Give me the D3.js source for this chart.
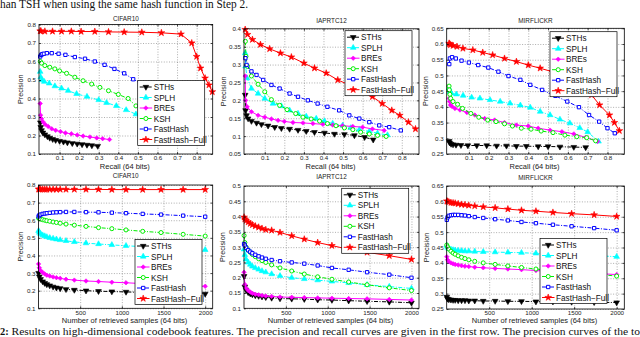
<!DOCTYPE html>
<html><head><meta charset="utf-8">
<script src="https://cdn.jsdelivr.net/npm/d3@7"></script>
<style>body{margin:0;background:#fff;} svg{display:block;}</style>
</head><body>
<svg id="c" width="640" height="337"></svg>
<script>
// ---------------- DATA ----------------
const methods = ["STHs", "SPLH", "BREs", "KSH", "FastHash", "FastHash\u2212Full"];
const datasets = ["CIFAR10", "IAPRTC12", "MIRFLICKR"];
const recallTicks = [0.1, 0.2, 0.3, 0.4, 0.5, 0.6, 0.7, 0.8];
const sampleTicks = [500, 1000, 1500, 2000];
const precTicksCifar = [0.1, 0.2, 0.3, 0.4, 0.5, 0.6, 0.7, 0.8];
const precTicksIaprTop = [0.05, 0.1, 0.15, 0.2, 0.25, 0.3, 0.35, 0.4];
const precTicksIaprBottom = [0.1, 0.15, 0.2, 0.25, 0.3, 0.35, 0.4, 0.45, 0.5];
const precTicksMir = [0.25, 0.3, 0.35, 0.4, 0.45, 0.5, 0.55, 0.6, 0.65];

// Precision-recall curves: [recall, precision]
const cifarPR_STHs = [[0.002,0.27],[0.004,0.245],[0.008,0.228],[0.015,0.215],[0.025,0.205],[0.038,0.195],[0.05,0.187],[0.065,0.18],[0.08,0.175],[0.1,0.17],[0.12,0.166],[0.14,0.162],[0.165,0.158],[0.19,0.155],[0.215,0.152],[0.24,0.149],[0.265,0.146],[0.295,0.143]];
const cifarPR_SPLH = [[0.001,0.545],[0.004,0.515],[0.01,0.5],[0.022,0.491],[0.047,0.482],[0.076,0.467],[0.11,0.455],[0.144,0.442],[0.187,0.425],[0.24,0.41],[0.30,0.392],[0.34,0.377],[0.39,0.36],[0.44,0.338],[0.49,0.315],[0.55,0.28]];
const cifarPR_BREs = [[0.001,0.373],[0.003,0.31],[0.008,0.29],[0.016,0.273],[0.027,0.26],[0.042,0.249],[0.06,0.236],[0.08,0.228],[0.105,0.221],[0.13,0.214],[0.16,0.209],[0.19,0.203],[0.22,0.197],[0.255,0.192],[0.29,0.187],[0.32,0.183],[0.355,0.178]];
const cifarPR_KSH = [[0.002,0.60],[0.008,0.591],[0.025,0.578],[0.05,0.569],[0.076,0.56],[0.10,0.549],[0.136,0.536],[0.178,0.515],[0.22,0.496],[0.264,0.478],[0.306,0.46],[0.35,0.442],[0.40,0.422],[0.45,0.40],[0.49,0.36],[0.55,0.33]];
const cifarPR_FastHash = [[0.001,0.627],[0.006,0.636],[0.012,0.64],[0.02,0.642],[0.035,0.645],[0.06,0.645],[0.095,0.642],[0.13,0.636],[0.178,0.624],[0.23,0.615],[0.28,0.60],[0.33,0.582],[0.38,0.56],[0.43,0.536],[0.476,0.504],[0.55,0.46]];
const cifarPR_FastHashFull = [[0.001,0.765],[0.005,0.764],[0.025,0.763],[0.064,0.763],[0.11,0.763],[0.16,0.763],[0.21,0.762],[0.28,0.762],[0.35,0.760],[0.43,0.759],[0.52,0.758],[0.62,0.755],[0.72,0.748],[0.775,0.70],[0.80,0.627],[0.82,0.564],[0.843,0.51],[0.863,0.473],[0.88,0.436]];

const iaprPR_STHs = [[0.0,0.215],[0.002,0.172],[0.007,0.158],[0.015,0.149],[0.032,0.142],[0.058,0.137],[0.083,0.133],[0.117,0.129],[0.151,0.125],[0.185,0.122],[0.227,0.12],[0.27,0.117],[0.312,0.114],[0.354,0.111],[0.405,0.109],[0.456,0.106],[0.507,0.105],[0.558,0.102],[0.61,0.097],[0.654,0.09]];
const iaprPR_SPLH = [[0.0,0.332],[0.002,0.295],[0.01,0.262],[0.032,0.233],[0.066,0.219],[0.1,0.205],[0.142,0.191],[0.185,0.184],[0.227,0.172],[0.27,0.163],[0.312,0.155],[0.363,0.149],[0.405,0.142],[0.447,0.135],[0.498,0.13],[0.54,0.123],[0.583,0.118],[0.634,0.113],[0.676,0.108],[0.727,0.103]];
const iaprPR_BREs = [[0.0,0.268],[0.002,0.2],[0.01,0.182],[0.032,0.168],[0.066,0.158],[0.1,0.153],[0.134,0.148],[0.168,0.144],[0.2,0.141],[0.244,0.138],[0.295,0.137],[0.346,0.135],[0.397,0.133],[0.447,0.131],[0.498,0.129],[0.55,0.127],[0.6,0.125],[0.65,0.12],[0.71,0.116]];
const iaprPR_KSH = [[0.001,0.365],[0.004,0.323],[0.012,0.295],[0.032,0.268],[0.066,0.245],[0.1,0.224],[0.134,0.202],[0.176,0.186],[0.214,0.174],[0.258,0.163],[0.295,0.153],[0.337,0.148],[0.38,0.142],[0.42,0.135],[0.464,0.129],[0.507,0.123],[0.55,0.118],[0.59,0.111],[0.634,0.106],[0.676,0.102],[0.72,0.099]];
const iaprPR_FastHash = [[0.001,0.318],[0.007,0.299],[0.032,0.281],[0.058,0.271],[0.092,0.257],[0.134,0.243],[0.176,0.233],[0.227,0.219],[0.27,0.21],[0.32,0.20],[0.37,0.191],[0.42,0.182],[0.48,0.172],[0.532,0.158],[0.583,0.149],[0.634,0.139],[0.685,0.13],[0.736,0.125],[0.795,0.116]];
const iaprPR_FastHashFull = [[0.0,0.398],[0.012,0.384],[0.037,0.37],[0.078,0.356],[0.125,0.344],[0.18,0.332],[0.236,0.321],[0.30,0.304],[0.354,0.29],[0.414,0.276],[0.473,0.257],[0.532,0.243],[0.59,0.224],[0.65,0.21],[0.70,0.191],[0.749,0.172],[0.79,0.158],[0.834,0.139],[0.87,0.12]];

const mirPR_STHs = [[0.0,0.291],[0.003,0.286],[0.01,0.282],[0.02,0.28],[0.035,0.279],[0.06,0.278],[0.095,0.277],[0.14,0.277],[0.19,0.277],[0.24,0.276],[0.29,0.276],[0.34,0.275],[0.39,0.275],[0.45,0.274],[0.5,0.274],[0.56,0.273],[0.63,0.272],[0.69,0.271]];
const mirPR_SPLH = [[0.0,0.459],[0.004,0.448],[0.012,0.443],[0.037,0.44],[0.071,0.436],[0.114,0.43],[0.156,0.427],[0.207,0.422],[0.258,0.417],[0.308,0.411],[0.36,0.405],[0.41,0.398],[0.46,0.385],[0.51,0.374],[0.56,0.36],[0.61,0.348],[0.66,0.333],[0.70,0.32],[0.755,0.29]];
const mirPR_BREs = [[0.0,0.427],[0.002,0.417],[0.007,0.406],[0.015,0.401],[0.03,0.395],[0.055,0.39],[0.09,0.382],[0.13,0.374],[0.18,0.363],[0.23,0.358],[0.28,0.35],[0.34,0.342],[0.4,0.339],[0.45,0.332],[0.51,0.326],[0.57,0.321],[0.63,0.314],[0.69,0.303],[0.75,0.29]];
const mirPR_KSH = [[0.0,0.466],[0.001,0.454],[0.004,0.44],[0.008,0.427],[0.02,0.417],[0.043,0.408],[0.068,0.395],[0.11,0.379],[0.15,0.367],[0.195,0.358],[0.237,0.353],[0.28,0.346],[0.32,0.339],[0.365,0.332],[0.414,0.329],[0.465,0.323],[0.525,0.318],[0.585,0.31],[0.645,0.305],[0.695,0.302],[0.74,0.292]];
const mirPR_FastHash = [[0.001,0.536],[0.004,0.554],[0.015,0.558],[0.034,0.554],[0.063,0.547],[0.1,0.541],[0.147,0.533],[0.198,0.525],[0.249,0.512],[0.3,0.498],[0.36,0.486],[0.41,0.47],[0.47,0.454],[0.537,0.435],[0.597,0.417],[0.656,0.399],[0.707,0.374],[0.758,0.353],[0.8,0.332],[0.837,0.316]];
const mirPR_FastHashFull = [[0.0,0.602],[0.003,0.6],[0.007,0.597],[0.02,0.595],[0.04,0.592],[0.07,0.586],[0.12,0.581],[0.17,0.573],[0.22,0.565],[0.28,0.554],[0.34,0.544],[0.4,0.533],[0.46,0.523],[0.52,0.512],[0.6,0.49],[0.66,0.47],[0.72,0.438],[0.76,0.406],[0.81,0.374],[0.835,0.35],[0.86,0.324]];

// Precision vs number of retrieved samples
const samplesK = [1, 10, 25, 50, 75, 100, 135, 175, 215, 260, 330, 430, 570, 720, 880, 1050, 1250, 1470, 1735, 2000];
const cifarPK_STHs = [0.3,0.28,0.265,0.252,0.243,0.236,0.229,0.222,0.217,0.213,0.208,0.204,0.2,0.197,0.195,0.193,0.19,0.188,0.185,0.182];
const cifarPK_SPLH = [0.54,0.53,0.522,0.515,0.51,0.505,0.5,0.496,0.492,0.488,0.483,0.477,0.47,0.465,0.46,0.455,0.45,0.445,0.44,0.432];
const cifarPK_BREs = [0.352,0.33,0.315,0.303,0.295,0.288,0.283,0.278,0.274,0.27,0.265,0.26,0.255,0.252,0.248,0.245,0.24,0.235,0.23,0.225];
const cifarPK_KSH = [0.612,0.61,0.607,0.603,0.6,0.597,0.594,0.59,0.587,0.583,0.578,0.572,0.565,0.558,0.552,0.545,0.537,0.53,0.52,0.51];
const cifarPK_FastHash = [0.622,0.628,0.632,0.636,0.638,0.64,0.642,0.644,0.645,0.646,0.647,0.647,0.646,0.645,0.643,0.64,0.636,0.632,0.626,0.62];
const cifarPK_FastHashFull = [0.776,0.776,0.776,0.776,0.775,0.775,0.775,0.775,0.775,0.775,0.775,0.775,0.775,0.775,0.774,0.774,0.774,0.774,0.774,0.774];

const iaprPK_STHs = [0.205,0.17,0.16,0.152,0.148,0.145,0.142,0.14,0.138,0.136,0.134,0.132,0.131,0.13,0.128,0.127,0.125,0.123,0.121,0.118];
const iaprPK_SPLH = [0.293,0.275,0.26,0.25,0.243,0.237,0.232,0.227,0.222,0.218,0.212,0.206,0.2,0.196,0.192,0.188,0.183,0.177,0.171,0.165];
const iaprPK_BREs = [0.218,0.178,0.166,0.158,0.153,0.149,0.146,0.144,0.142,0.14,0.139,0.137,0.136,0.135,0.134,0.133,0.132,0.131,0.129,0.127];
const iaprPK_KSH = [0.338,0.315,0.3,0.29,0.283,0.276,0.269,0.262,0.256,0.25,0.242,0.232,0.222,0.212,0.203,0.195,0.186,0.177,0.167,0.158];
const iaprPK_FastHash = [0.31,0.305,0.298,0.29,0.285,0.28,0.275,0.27,0.266,0.262,0.258,0.254,0.25,0.246,0.24,0.232,0.226,0.218,0.21,0.2];
const iaprPK_FastHashFull = [0.398,0.392,0.387,0.382,0.377,0.373,0.369,0.365,0.361,0.357,0.355,0.348,0.337,0.326,0.315,0.305,0.293,0.283,0.272,0.26];

const mirPK_STHs = [0.289,0.283,0.281,0.28,0.279,0.279,0.278,0.278,0.278,0.277,0.277,0.276,0.276,0.275,0.275,0.274,0.274,0.273,0.272,0.271];
const mirPK_SPLH = [0.456,0.45,0.446,0.444,0.442,0.441,0.44,0.439,0.438,0.438,0.437,0.436,0.435,0.434,0.433,0.431,0.429,0.427,0.424,0.42];
const mirPK_BREs = [0.42,0.41,0.404,0.4,0.397,0.395,0.393,0.391,0.389,0.388,0.386,0.384,0.382,0.38,0.378,0.375,0.372,0.369,0.366,0.362];
const mirPK_KSH = [0.458,0.452,0.445,0.438,0.432,0.428,0.423,0.418,0.414,0.41,0.405,0.4,0.395,0.39,0.385,0.38,0.375,0.37,0.364,0.357];
const mirPK_FastHash = [0.54,0.548,0.553,0.555,0.556,0.556,0.556,0.555,0.554,0.552,0.549,0.546,0.542,0.538,0.533,0.529,0.524,0.519,0.513,0.506];
const mirPK_FastHashFull = [0.601,0.6,0.598,0.596,0.595,0.594,0.592,0.59,0.589,0.587,0.585,0.582,0.579,0.575,0.571,0.568,0.564,0.56,0.556,0.551];

// ---------------- STYLE / LAYOUT ----------------
const colors = ["#000000", "#00FFFF", "#FF00FF", "#00EE00", "#0000FF", "#FF0000"];
const dashes = ["4,1.5,1,1.5", "4,1.5,1,1.5", null, "4,1.5,1,1.5", "4,1.5,1,1.5", null];
const markerDefs = [
  {type: d3.symbolTriangle, size: 14, rot: 180, hollow: false},
  {type: d3.symbolTriangle, size: 14, rot: 0, hollow: false},
  {type: d3.symbolSquare, size: 10, rot: 45, hollow: false},
  {type: d3.symbolCircle, size: 13, rot: 0, hollow: true},
  {type: d3.symbolSquare, size: 11, rot: 0, hollow: true},
  {type: d3.symbolStar, size: 14, rot: 0, hollow: false}
];
const sansFont = "'Liberation Sans', Arial, Helvetica, sans-serif";

const toPairs = ys => ys.map((v, i) => [samplesK[i], v]);

const panels = [
  {title: datasets[0], pr: true, left: 39, right: 212.7, top: 24.5, bottom: 154, xdom: [-0.005, 0.882], ydom: [0.1, 0.8], yticks: precTicksCifar,
   titleY: 20.5, ylabX: 20.7, leg: [137.7, 80.5],
   series: [cifarPR_STHs, cifarPR_SPLH, cifarPR_BREs, cifarPR_KSH, cifarPR_FastHash, cifarPR_FastHashFull]},
  {title: datasets[1], pr: true, left: 244, right: 419, top: 28.8, bottom: 154, xdom: [-0.006, 0.888], ydom: [0.05, 0.4], yticks: precTicksIaprTop,
   titleY: 22.5, ylabX: 223, leg: [345, 30.7],
   series: [iaprPR_STHs, iaprPR_SPLH, iaprPR_BREs, iaprPR_KSH, iaprPR_FastHash, iaprPR_FastHashFull]},
  {title: datasets[2], pr: true, left: 446.7, right: 624.3, top: 28.3, bottom: 154, xdom: [-0.012, 0.885], ydom: [0.25, 0.65], yticks: precTicksMir,
   titleY: 22.5, ylabX: 425, leg: [550, 31.7],
   series: [mirPR_STHs, mirPR_SPLH, mirPR_BREs, mirPR_KSH, mirPR_FastHash, mirPR_FastHashFull]},
  {title: datasets[0], pr: false, left: 38.5, right: 212.7, top: 185, bottom: 308.3, xdom: [0, 2090], ydom: [0.1, 0.8], yticks: precTicksCifar,
   titleY: 178.3, ylabX: 20, leg: [135, 239.5],
   series: [cifarPK_STHs, cifarPK_SPLH, cifarPK_BREs, cifarPK_KSH, cifarPK_FastHash, cifarPK_FastHashFull].map(toPairs)},
  {title: datasets[1], pr: false, left: 244, right: 419, top: 186, bottom: 308.3, xdom: [0, 2090], ydom: [0.1, 0.5], yticks: precTicksIaprBottom,
   titleY: 179.3, ylabX: 222.7, leg: [341.7, 188.3],
   series: [iaprPK_STHs, iaprPK_SPLH, iaprPK_BREs, iaprPK_KSH, iaprPK_FastHash, iaprPK_FastHashFull].map(toPairs)},
  {title: datasets[2], pr: false, left: 446.7, right: 624.3, top: 186, bottom: 309, xdom: [0, 2090], ydom: [0.25, 0.65], yticks: precTicksMir,
   titleY: 180, ylabX: 426, leg: [540, 238.5],
   series: [mirPK_STHs, mirPK_SPLH, mirPK_BREs, mirPK_KSH, mirPK_FastHash, mirPK_FastHashFull].map(toPairs)}
];

// ---------------- DRAW ----------------
const svg = d3.select("#c");
svg.append("rect").attr("width", 640).attr("height", 337).attr("fill", "#fff");

function marker(sel, mi, x, y) {
  const m = markerDefs[mi];
  sel.append("path")
    .attr("d", d3.symbol(m.type, m.size)())
    .attr("transform", `translate(${x},${y}) rotate(${m.rot})`)
    .attr("fill", m.hollow ? "#fff" : colors[mi])
    .attr("stroke", colors[mi])
    .attr("stroke-width", m.hollow ? 1 : 0.6);
}

const fmt = v => String(+v.toFixed(2));

panels.forEach(p => {
  const g = svg.append("g");
  const x = d3.scaleLinear().domain(p.xdom).range([p.left, p.right]);
  const y = d3.scaleLinear().domain(p.ydom).range([p.bottom, p.top]);
  const xt = p.pr ? recallTicks : sampleTicks;
  const w = p.right - p.left, h = p.bottom - p.top;

  g.append("rect").attr("x", p.left).attr("y", p.top).attr("width", w).attr("height", h).attr("fill", "#fff");

  // grid
  const gx = g.append("g").attr("transform", `translate(0,${p.bottom})`)
    .call(d3.axisBottom(x).tickValues(xt).tickSize(-h).tickFormat(""));
  const gy = g.append("g").attr("transform", `translate(${p.left},0)`)
    .call(d3.axisLeft(y).tickValues(p.yticks).tickSize(-w).tickFormat(""));
  [gx, gy].forEach(a => {
    a.select(".domain").remove();
    a.selectAll("line").attr("stroke", "#777").attr("stroke-width", 0.6).attr("stroke-dasharray", "1,1.6");
  });

  // series
  const line = d3.line().x(d => x(d[0])).y(d => y(d[1]));
  p.series.forEach((s, i) => {
    g.append("path").datum(s).attr("d", line).attr("fill", "none")
      .attr("stroke", colors[i]).attr("stroke-width", 1)
      .attr("stroke-dasharray", dashes[i]);
    s.forEach(d => marker(g, i, x(d[0]), y(d[1])));
  });

  // frame
  g.append("rect").attr("x", p.left).attr("y", p.top).attr("width", w).attr("height", h)
    .attr("fill", "none").attr("stroke", "#000").attr("stroke-width", 0.8);

  // axes with inward ticks
  const ax = g.append("g").attr("transform", `translate(0,${p.bottom})`)
    .call(d3.axisBottom(x).tickValues(xt).tickSize(-2).tickSizeOuter(0).tickPadding(2).tickFormat(p.pr ? fmt : d3.format("d")));
  const axTop = g.append("g").attr("transform", `translate(0,${p.top})`)
    .call(d3.axisTop(x).tickValues(xt).tickSize(-2).tickSizeOuter(0).tickFormat(""));
  const ay = g.append("g").attr("transform", `translate(${p.left},0)`)
    .call(d3.axisLeft(y).tickValues(p.yticks).tickSize(-2).tickSizeOuter(0).tickPadding(3).tickFormat(fmt));
  const ayR = g.append("g").attr("transform", `translate(${p.right},0)`)
    .call(d3.axisRight(y).tickValues(p.yticks).tickSize(-2).tickSizeOuter(0).tickFormat(""));
  [ax, axTop, ay, ayR].forEach(a => {
    a.select(".domain").remove();
    a.selectAll("line").attr("stroke", "#000").attr("stroke-width", 0.7);
    a.selectAll("text").attr("font-family", sansFont).attr("font-size", 6.2).attr("fill", "#222");
  });

  // title and labels
  g.append("text").attr("x", (p.left + p.right) / 2).attr("y", p.titleY).attr("text-anchor", "middle")
    .attr("font-family", sansFont).attr("font-size", 6.4).attr("fill", "#222").text(p.title);
  g.append("text").attr("x", (p.left + p.right) / 2 - 1).attr("y", p.pr ? 168.5 : 323.2).attr("text-anchor", "middle")
    .attr("font-family", sansFont).attr("font-size", 7.5).attr("fill", "#222")
    .text(p.pr ? "Recall (64 bits)" : "Number of retrieved samples (64 bits)");
  g.append("text").attr("transform", `translate(${p.ylabX + 2.5},${(p.top + p.bottom) / 2}) rotate(-90)`)
    .attr("text-anchor", "middle").attr("font-family", sansFont).attr("font-size", 7.2).attr("fill", "#222").text("Precision");

  // legend
  const [lx, ly] = p.leg;
  const lg = g.append("g");
  lg.append("rect").attr("x", lx).attr("y", ly).attr("width", 67).attr("height", 65)
    .attr("fill", "#fff").attr("stroke", "#000").attr("stroke-width", 0.7);
  methods.forEach((m, i) => {
    const yy = ly + 6.5 + i * 10.5;
    lg.append("line").attr("x1", lx + 2).attr("x2", lx + 14.5).attr("y1", yy).attr("y2", yy)
      .attr("stroke", colors[i]).attr("stroke-width", 1).attr("stroke-dasharray", dashes[i]);
    marker(lg, i, lx + 8.2, yy);
    lg.append("text").attr("x", lx + 16).attr("y", yy + 3).attr("font-family", sansFont)
      .attr("font-size", 8.2).attr("fill", "#111").text(m);
  });
});

// captions (page text around the figure)
svg.append("text").attr("x", 0).attr("y", 7.6).attr("font-family", "'Liberation Serif', 'Times New Roman', serif")
  .attr("font-size", 12).attr("fill", "#111").attr("textLength", 248).attr("lengthAdjust", "spacingAndGlyphs")
  .text("han TSH when using the same hash function in Step 2.");
const cap = svg.append("text").attr("y", 335.3).attr("font-family", "'Liberation Serif', 'Times New Roman', serif")
  .attr("font-size", 10.5).attr("fill", "#111");
cap.append("tspan").attr("x", 0).attr("font-weight", "bold").text("2:");
cap.append("tspan").attr("x", 11.5).attr("textLength", 628.5).attr("lengthAdjust", "spacingAndGlyphs")
  .text("Results on high-dimensional codebook features. The precision and recall curves are given in the first row. The precision curves of the to");
</script>
</body></html>
